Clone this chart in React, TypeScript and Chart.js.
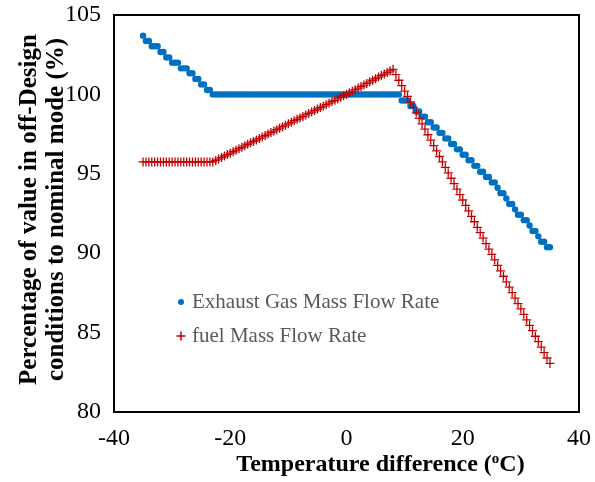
import React, { useEffect, useRef } from "react";
import { Chart, registerables } from "chart.js";

Chart.register(...registerables);

// Temperature difference (°C), sampled every 0.5 °C
const tempDiff = [
  -35, -34.5, -34, -33.5, -33, -32.5, -32, -31.5, -31, -30.5,
  -30, -29.5, -29, -28.5, -28, -27.5, -27, -26.5, -26, -25.5,
  -25, -24.5, -24, -23.5, -23, -22.5, -22, -21.5, -21, -20.5,
  -20, -19.5, -19, -18.5, -18, -17.5, -17, -16.5, -16, -15.5,
  -15, -14.5, -14, -13.5, -13, -12.5, -12, -11.5, -11, -10.5,
  -10, -9.5, -9, -8.5, -8, -7.5, -7, -6.5, -6, -5.5,
  -5, -4.5, -4, -3.5, -3, -2.5, -2, -1.5, -1, -0.5,
  0, 0.5, 1, 1.5, 2, 2.5, 3, 3.5, 4, 4.5,
  5, 5.5, 6, 6.5, 7, 7.5, 8, 8.5, 9, 9.5,
  10, 10.5, 11, 11.5, 12, 12.5, 13, 13.5, 14, 14.5,
  15, 15.5, 16, 16.5, 17, 17.5, 18, 18.5, 19, 19.5,
  20, 20.5, 21, 21.5, 22, 22.5, 23, 23.5, 24, 24.5,
  25, 25.5, 26, 26.5, 27, 27.5, 28, 28.5, 29, 29.5,
  30, 30.5, 31, 31.5, 32, 32.5, 33, 33.5, 34, 34.5,
  35,
];

// Exhaust gas mass flow rate, % of nominal
const exhaustGasFlow = [
  103.7, 103.36, 103.36, 103.03, 103.03, 103.03, 102.67, 102.67, 102.33, 102.33,
  102.0, 102.0, 102.0, 101.64, 101.64, 101.64, 101.33, 101.33, 100.97, 100.97,
  100.63, 100.63, 100.28, 100.28, 100, 100, 100, 100, 100, 100,
  100, 100, 100, 100, 100, 100, 100, 100, 100, 100,
  100, 100, 100, 100, 100, 100, 100, 100, 100, 100,
  100, 100, 100, 100, 100, 100, 100, 100, 100, 100,
  100, 100, 100, 100, 100, 100, 100, 100, 100, 100,
  100, 100, 100, 100, 100, 100, 100, 100, 100, 100,
  100, 100, 100, 100, 100, 100, 100, 100, 100, 99.62,
  99.62, 99.62, 99.27, 99.27, 98.93, 98.93, 98.6, 98.6, 98.25, 98.25,
  97.92, 97.92, 97.58, 97.58, 97.23, 97.23, 96.88, 96.88, 96.54, 96.54,
  96.2, 96.2, 95.85, 95.85, 95.5, 95.5, 95.13, 95.13, 94.8, 94.8,
  94.46, 94.46, 94.12, 93.78, 93.78, 93.44, 93.1, 93.1, 92.76, 92.42,
  92.42, 92.08, 92.08, 91.74, 91.4, 91.4, 91.06, 90.72, 90.72, 90.38,
  90.38,
];

// Fuel mass flow rate, % of nominal
const fuelFlow = [
  95.75, 95.75, 95.75, 95.75, 95.75, 95.75, 95.75, 95.75, 95.75, 95.75,
  95.75, 95.75, 95.75, 95.75, 95.75, 95.75, 95.75, 95.75, 95.75, 95.75,
  95.75, 95.75, 95.75, 95.75, 95.75, 95.84, 95.93, 96.02, 96.12, 96.21,
  96.3, 96.39, 96.49, 96.58, 96.67, 96.76, 96.86, 96.95, 97.04, 97.13,
  97.23, 97.32, 97.41, 97.5, 97.6, 97.69, 97.78, 97.87, 97.97, 98.06,
  98.15, 98.24, 98.34, 98.43, 98.52, 98.61, 98.71, 98.8, 98.89, 98.98,
  99.08, 99.17, 99.26, 99.35, 99.45, 99.54, 99.63, 99.72, 99.82, 99.91,
  100.0, 100.1, 100.2, 100.3, 100.4, 100.49, 100.59, 100.69, 100.79, 100.89,
  100.99, 101.09, 101.19, 101.28, 101.38, 101.48, 101.58, 101.24, 100.89, 100.55,
  100.21, 99.87, 99.52, 99.18, 98.84, 98.49, 98.15, 97.81, 97.46, 97.12,
  96.78, 96.44, 96.09, 95.75, 95.41, 95.06, 94.72, 94.38, 94.03, 93.69,
  93.35, 93.01, 92.66, 92.32, 91.98, 91.63, 91.29, 90.95, 90.6, 90.26,
  89.92, 89.58, 89.23, 88.89, 88.55, 88.2, 87.86, 87.52, 87.17, 86.83,
  86.49, 86.15, 85.8, 85.46, 85.12, 84.77, 84.43, 84.09, 83.74, 83.4,
  83.06,
];

const seriesNames = ["Exhaust Gas Mass Flow Rate", "fuel Mass Flow Rate"];
const xTickValues = [-40, -20, 0, 20, 40];
const yTickValues = [80, 85, 90, 95, 100, 105];
const yTitleLines = ["Percentage of value in off-Design", "conditions to nominal mode (%)"];
const xTitleParts = ["Temperature difference (", "o", "C)"];

const BLUE = "#0070C0";
const RED = "#C00000";
const SERIF = "'Liberation Serif', 'Times New Roman', serif";

const framePlugin = {
  id: "frameAndLabels",
  afterDraw(chart: any) {
    const { ctx, chartArea } = chart;
    const { left, top, right, bottom } = chartArea;
    ctx.save();

    // plot frame
    ctx.strokeStyle = "#000";
    ctx.lineWidth = 2;
    ctx.strokeRect(left, top, right - left, bottom - top);

    // legend inside plot
    ctx.font = `21px ${SERIF}`;
    ctx.textBaseline = "middle";
    ctx.textAlign = "left";
    const lx = left + 67;
    const ly1 = top + 287;
    const ly2 = top + 321;
    ctx.beginPath();
    ctx.fillStyle = BLUE;
    ctx.arc(lx, ly1, 3, 0, Math.PI * 2);
    ctx.fill();
    ctx.strokeStyle = RED;
    ctx.lineWidth = 1.5;
    ctx.beginPath();
    ctx.moveTo(lx - 4.5, ly2);
    ctx.lineTo(lx + 4.5, ly2);
    ctx.moveTo(lx, ly2 - 4.5);
    ctx.lineTo(lx, ly2 + 4.5);
    ctx.stroke();
    ctx.fillStyle = "#595959";
    ctx.fillText(seriesNames[0], lx + 11, ly1);
    ctx.fillText(seriesNames[1], lx + 11, ly2);

    // x axis title with superscript o
    ctx.fillStyle = "#000";
    const bigFont = `bold 24px ${SERIF}`;
    const smallFont = `bold 15px ${SERIF}`;
    ctx.font = bigFont;
    const w0 = ctx.measureText(xTitleParts[0]).width;
    const w2 = ctx.measureText(xTitleParts[2]).width;
    ctx.font = smallFont;
    const w1 = ctx.measureText(xTitleParts[1]).width;
    const total = w0 + w1 + w2;
    const cx = (left + right) / 2 + 34;
    let x = cx - total / 2;
    const ty = bottom + 53;
    ctx.textBaseline = "middle";
    ctx.font = bigFont;
    ctx.fillText(xTitleParts[0], x, ty);
    x += w0;
    ctx.font = smallFont;
    ctx.fillText(xTitleParts[1], x, ty - 6);
    x += w1;
    ctx.font = bigFont;
    ctx.fillText(xTitleParts[2], x, ty);

    // y axis title, two rotated lines
    ctx.save();
    ctx.translate(30, (top + bottom) / 2 - 4);
    ctx.rotate(-Math.PI / 2);
    ctx.textAlign = "center";
    ctx.font = `bold 25px ${SERIF}`;
    ctx.fillText(yTitleLines[0], 0, 0);
    ctx.fillText(yTitleLines[1], 0, 27);
    ctx.restore();

    ctx.restore();
  },
};

export default function App() {
  const canvasRef = useRef<HTMLCanvasElement | null>(null);

  useEffect(() => {
    const canvas = canvasRef.current;
    if (!canvas) return;
    const chart = new Chart(canvas, {
      type: "scatter",
      data: {
        datasets: [
          {
            label: seriesNames[0],
            data: tempDiff.map((x, i) => ({ x, y: exhaustGasFlow[i] })),
            pointStyle: "circle",
            pointRadius: 3.2,
            pointBackgroundColor: BLUE,
            pointBorderColor: BLUE,
            pointBorderWidth: 0,
            showLine: false,
            order: 2,
          },
          {
            label: seriesNames[1],
            data: tempDiff.map((x, i) => ({ x, y: fuelFlow[i] })),
            pointStyle: "cross",
            pointRadius: 4.5,
            pointBorderColor: RED,
            pointBackgroundColor: RED,
            pointBorderWidth: 1.3,
            showLine: false,
            order: 1,
          },
        ],
      },
      options: {
        responsive: false,
        animation: false,
        layout: { padding: { top: 15, right: 16, left: 0, bottom: 0 } },
        plugins: {
          legend: { display: false },
          tooltip: { enabled: false },
        },
        scales: {
          x: {
            type: "linear",
            min: -40,
            max: 40,
            afterBuildTicks: (s: any) => {
              s.ticks = xTickValues.map((v) => ({ value: v }));
            },
            afterFit: (s: any) => {
              s.height = 70;
              s.paddingLeft = 0;
              s.paddingRight = 0;
            },
            grid: { display: false, drawTicks: false },
            border: { display: false },
            ticks: {
              padding: 12,
              color: "#000",
              font: { family: SERIF, size: 24 },
            },
          },
          y: {
            type: "linear",
            min: 80,
            max: 105,
            afterBuildTicks: (s: any) => {
              s.ticks = yTickValues.map((v) => ({ value: v }));
            },
            afterFit: (s: any) => {
              s.width = 114;
              s.paddingTop = 0;
              s.paddingBottom = 0;
            },
            grid: { display: false, drawTicks: false },
            border: { display: false },
            ticks: {
              padding: 13,
              color: "#000",
              font: { family: SERIF, size: 24 },
            },
          },
        },
      },
      plugins: [framePlugin],
    });
    return () => chart.destroy();
  }, []);

  return (
    <div style={{ position: "absolute", left: 0, top: 0, width: 595, height: 482, background: "#fff" }}>
      <canvas ref={canvasRef} width={595} height={482} />
    </div>
  );
}
